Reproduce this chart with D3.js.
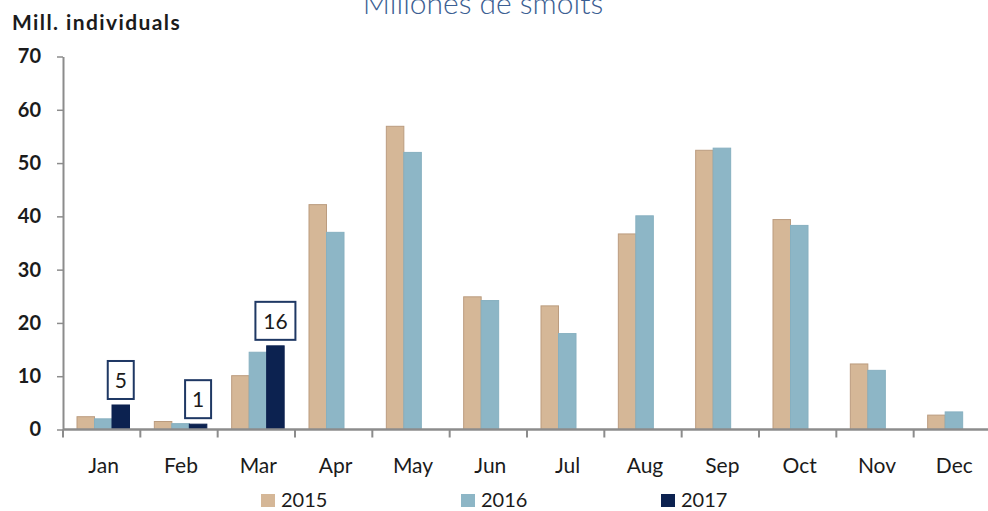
<!DOCTYPE html>
<html>
<head>
<meta charset="utf-8">
<script src="https://cdn.jsdelivr.net/npm/d3@7"></script>
<style>
  body { margin: 0; background: #fff; }
  svg { display: block; font-family: Lato, "Open Sans", sans-serif; }
</style>
</head>
<body>
<svg width="988" height="511"></svg>
<script>
const months = ["Jan", "Feb", "Mar", "Apr", "May", "Jun", "Jul", "Aug", "Sep", "Oct", "Nov", "Dec"]
const seriesNames = ["2015", "2016", "2017"]
const values2015 = [2.4, 1.5, 10.1, 42.2, 56.9, 24.9, 23.2, 36.7, 52.4, 39.4, 12.3, 2.7]
const values2016 = [2.0, 1.1, 14.5, 37.0, 52.0, 24.2, 18.0, 40.1, 52.8, 38.3, 11.1, 3.3]
const values2017 = [4.6, 1.0, 15.7, null, null, null, null, null, null, null, null, null]
const labels2017 = ["5", "1", "16"]
const yTicks = [0, 10, 20, 30, 40, 50, 60, 70]

const colors = ["#d5b797", "#8db6c6", "#0c2250"]
const strokes = ["#bb9c7f", "#87b0c0", "#0c2250"]

const svg = d3.select("svg")

const x0 = d3.scaleBand().domain(months).range([63, 991]).paddingInner(0).paddingOuter(0)
const x1 = d3.scaleBand().domain(seriesNames).range([14, 14 + 52.5])
const y = d3.scaleLinear().domain([0, 70]).range([429.5, 56.5])

// title (cut at the top like the original)
svg.append("text")
  .attr("x", 483).attr("y", 14)
  .attr("text-anchor", "middle")
  .style("font-size", "30px")
  .style("font-weight", 300)
  .style("fill", "#3b5e92")
  .text("Millones de smolts")

svg.append("text")
  .attr("x", 12).attr("y", 30)
  .style("font-size", "21px")
  .style("font-weight", 700)
  .style("letter-spacing", "1.4px")
  .style("fill", "#1b1b1b")
  .text("Mill. individuals")

// y axis
const yAxis = svg.append("g")
  .attr("transform", "translate(63,0)")
  .call(d3.axisLeft(y).tickValues(yTicks).tickSize(6).tickSizeOuter(0).tickPadding(16))
yAxis.select(".domain").attr("stroke", "#8c8c8c").attr("stroke-width", 2)
yAxis.selectAll(".tick line").attr("stroke", "#8c8c8c").attr("stroke-width", 1.5)
yAxis.selectAll(".tick text")
  .style("font-size", "20px")
  .style("font-weight", 700)
  .style("font-family", "Lato, sans-serif")
  .attr("fill", "#1b1b1b")

// bars
const rows = months.map((m, i) => ({month: m, vals: [values2015[i], values2016[i], values2017[i]]}))
const groups = svg.append("g").selectAll("g")
  .data(rows)
  .enter().append("g")
  .attr("transform", d => "translate(" + x0(d.month) + ",0)")

groups.selectAll("rect")
  .data(d => d.vals.map((v, k) => ({key: seriesNames[k], k: k, v: v})).filter(e => e.v != null))
  .enter().append("rect")
  .attr("x", d => x1(d.key))
  .attr("width", x1.bandwidth())
  .attr("y", d => y(d.v))
  .attr("height", d => y(0) - y(d.v))
  .attr("fill", d => colors[d.k])
  .attr("stroke", d => strokes[d.k])
  .attr("stroke-width", 1)

// x axis
svg.append("line")
  .attr("x1", 63).attr("x2", 988)
  .attr("y1", y(0)).attr("y2", y(0))
  .attr("stroke", "#8c8c8c").attr("stroke-width", 2.5)
svg.append("g").selectAll("line")
  .data(months)
  .enter().append("line")
  .attr("x1", d => x0(d)).attr("x2", d => x0(d))
  .attr("y1", y(0)).attr("y2", y(0) + 8)
  .attr("stroke", "#8c8c8c").attr("stroke-width", 2)
svg.append("g").selectAll("text")
  .data(months)
  .enter().append("text")
  .attr("x", d => x0(d) + x0.bandwidth() / 2 + 2)
  .attr("y", 473)
  .attr("text-anchor", "middle")
  .style("font-size", "21px")
  .style("fill", "#1b1b1b")
  .text(d => d)

// 2017 value boxes
const boxData = labels2017.map((t, i) => ({t: t, month: months[i], v: values2017[i]}))
const boxes = svg.append("g").selectAll("g")
  .data(boxData)
  .enter().append("g")
  .attr("transform", d => "translate(" + (x0(d.month) + x1("2017") + x1.bandwidth() / 2) + "," + (y(d.v) - 6) + ")")
boxes.append("rect")
  .attr("x", d => d.t.length > 1 ? -20 : -13)
  .attr("width", d => d.t.length > 1 ? 40 : 26)
  .attr("y", -38).attr("height", 38)
  .attr("fill", "#fff")
  .attr("stroke", "#1f3864").attr("stroke-width", 2)
boxes.append("text")
  .attr("y", -11)
  .attr("text-anchor", "middle")
  .style("font-size", "21px")
  .style("fill", "#1b1b1b")
  .text(d => d.t)

// legend
const legendX = [261, 461, 661]
const legend = svg.append("g").selectAll("g")
  .data(seriesNames)
  .enter().append("g")
  .attr("transform", (d, i) => "translate(" + legendX[i] + ",494)")
legend.append("rect")
  .attr("width", 14).attr("height", 13)
  .attr("fill", (d, i) => colors[i])
legend.append("text")
  .attr("x", 20).attr("y", 13)
  .style("font-size", "20px")
  .style("fill", "#1b1b1b")
  .text(d => d)
</script>
</body>
</html>
